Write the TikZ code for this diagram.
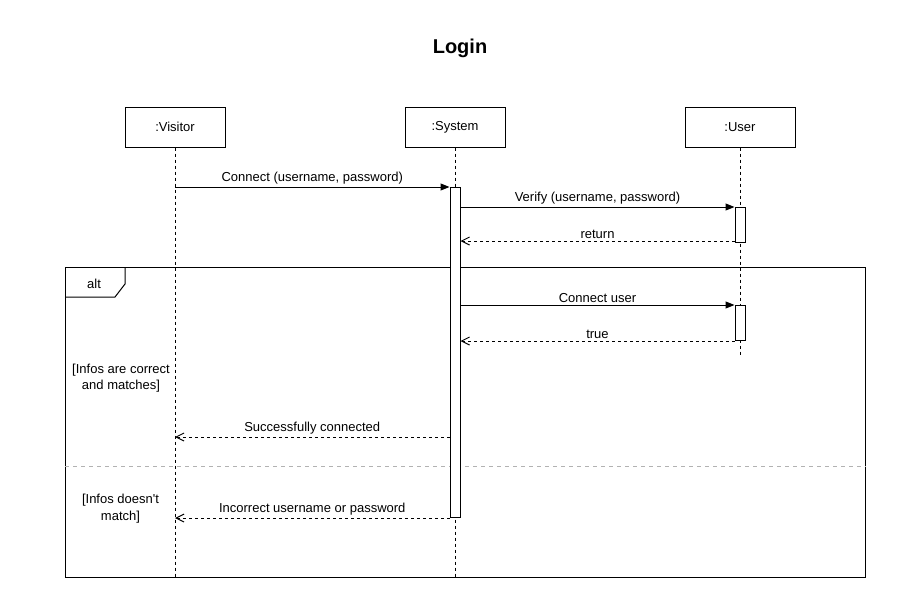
\documentclass[tikz,border=0pt]{standalone}
\usepackage{fontspec}
\setmainfont{Liberation Sans}
\usetikzlibrary{arrows.meta}

\tikzset{
  lifebox/.style={draw, minimum height=40pt, inner sep=0pt},
  actbar/.style={draw, fill=white, minimum width=10pt, inner sep=0pt, anchor=north},
  lifeline/.style={dash pattern=on 3pt off 3pt},
  separator/.style={gray!60, dash pattern=on 4pt off 4pt},
  msg/.style={-{Triangle[length=9pt,width=7pt]}},
  reply/.style={dash pattern=on 3pt off 3pt, -{Straight Barb[length=8pt,width=8pt]}},
  lbl/.style={above=-1pt}
}

\begin{document}
\begin{tikzpicture}[x=1pt, y=-1pt, line width=1pt, font=\fontsize{13}{16}\selectfont]
  \useasboundingbox (0,0) rectangle (921,613);

  %title
  \node[font=\fontsize{20}{24}\selectfont\bfseries] (title) at (460,48.5) {Login};

  %participants
  \node[lifebox, minimum width=100pt] (visitor) at (175,127) {:Visitor};
  \node[lifebox, minimum width=100pt] (system) at (455,127) {:System};
  \node[lifebox, minimum width=110pt] (user) at (740,127) {:User};

  %alt frame
  \node[draw, minimum width=800pt, minimum height=310pt, inner sep=0pt, anchor=north west] (altframe) at (65,267) {};
  \coordinate (userend) at (740,355);
  \coordinate (sep) at (0,466);

  %lifelines
  \draw[lifeline] (visitor) -- (visitor |- altframe.south);
  \draw[lifeline] (system) -- (system |- altframe.south);
  \draw[lifeline] (user) -- (userend);

  \draw ([xshift=60pt]altframe.north west) -- ++(0,17) -- ++(-10,13) -- ([yshift=-30pt]altframe.north west);
  \node (alt) at (94,283.5) {alt};
  \draw[separator] (altframe.west |- sep) -- (altframe.east |- sep);

  %guards
  \node[align=center] (guard1) at (121,378) {[Infos are correct\\and matches]};
  \node[align=center, font=\fontsize{13}{17}\selectfont] (guard2) at (120.5,509) {[Infos doesn\textquotesingle t\\match]};

  %activations
  \node[actbar, minimum height=330pt] (sysact) at (455,187) {};
  \node[actbar, minimum height=35pt] (useract1) at (740,207) {};
  \node[actbar, minimum height=35pt] (useract2) at (740,305) {};

  %messages
  \draw[msg] (visitor |- sysact.north) -- node[lbl] {Connect (username, password)} (sysact.north west);
  \draw[msg] (sysact.east |- useract1.north) -- node[lbl] {Verify (username, password)} (useract1.north west);
  \coordinate (ret1) at ([yshift=2pt]useract1.south west);
  \draw[reply] (ret1) -- node[lbl] {return} (sysact.east |- ret1);
  \draw[msg] (sysact.east |- useract2.north) -- node[lbl] {Connect user} (useract2.north west);
  \draw[reply] (useract2.south west) -- node[lbl] {true} (sysact.east |- useract2.south);
  \coordinate (succ) at (sysact.west |- 0,437);
  \draw[reply] (succ) -- node[lbl] {Successfully connected} (visitor |- succ);
  \draw[reply] (sysact.south west) -- node[lbl] {Incorrect username or password} (visitor |- sysact.south);
\end{tikzpicture}
\end{document}
